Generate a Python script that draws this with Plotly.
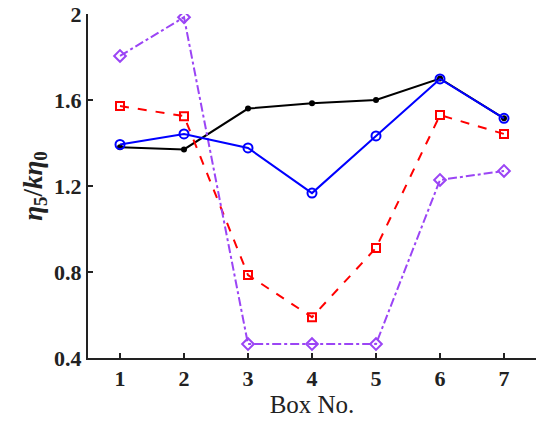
import plotly.graph_objects as go

boxes = [1, 2, 3, 4, 5, 6, 7]
black_vals = [1.38, 1.37, 1.56, 1.585, 1.60, 1.70, 1.515]
red_vals = [1.572, 1.525, 0.786, 0.59, 0.912, 1.53, 1.442]
purple_vals = [1.805, 1.985, 0.465, 0.465, 0.465, 1.228, 1.27]
blue_vals = [1.393, 1.442, 1.377, 1.167, 1.433, 1.698, 1.515]

y_ticks = [0.4, 0.8, 1.2, 1.6, 2.0]
y_ticklabels = ["0.4", "0.8", "1.2", "1.6", "2"]

purple = "#9b45f5"

fig = go.Figure()
fig.add_trace(go.Scatter(x=boxes, y=black_vals, mode="lines+markers",
                         line=dict(color="black", width=2),
                         marker=dict(symbol="circle", size=6, color="black")))
fig.add_trace(go.Scatter(x=boxes, y=red_vals, mode="lines+markers",
                         line=dict(color="red", width=2, dash="dash"),
                         marker=dict(symbol="square-open", size=8, color="red",
                                     line=dict(width=2))))
fig.add_trace(go.Scatter(x=boxes, y=purple_vals, mode="lines+markers",
                         line=dict(color=purple, width=2, dash="dashdot"),
                         marker=dict(symbol="diamond-open", size=9, color=purple,
                                     line=dict(width=2))))
fig.add_trace(go.Scatter(x=boxes, y=blue_vals, mode="lines+markers",
                         line=dict(color="blue", width=2),
                         marker=dict(symbol="circle-open", size=9, color="blue",
                                     line=dict(width=2))))

fig.update_layout(
    width=548, height=423,
    margin=dict(l=88, r=12, t=14, b=65),
    plot_bgcolor="white", paper_bgcolor="white",
    showlegend=False,
    font=dict(family="Liberation Serif", color="#222"),
)
fig.update_xaxes(
    range=[0.5, 7.5], tickvals=boxes, ticktext=[str(b) for b in boxes],
    showline=True, linecolor="#222", linewidth=2, mirror=False,
    ticks="inside", ticklen=5, tickwidth=2, tickcolor="#222",
    showgrid=False, zeroline=False, automargin=False,
    tickfont=dict(family="Liberation Serif", size=22, weight="bold", color="#222"),
    title=dict(text="Box No.", font=dict(family="Liberation Serif", size=25, color="#222"),
               standoff=4),
)
fig.update_yaxes(
    range=[0.4, 2.0], tickvals=y_ticks, ticktext=y_ticklabels,
    showline=True, linecolor="#222", linewidth=2, mirror=False,
    ticks="inside", ticklen=5, tickwidth=2, tickcolor="#222",
    showgrid=False, zeroline=False, automargin=False,
    tickfont=dict(family="Liberation Serif", size=22, weight="bold", color="#222"),
    title=dict(text="<i>η</i><sub>5</sub>/<i>kη</i><sub>0</sub>",
               font=dict(family="Liberation Serif", size=27, weight="bold", color="#222"),
               standoff=4),
)

fig.write_html("out.html")
